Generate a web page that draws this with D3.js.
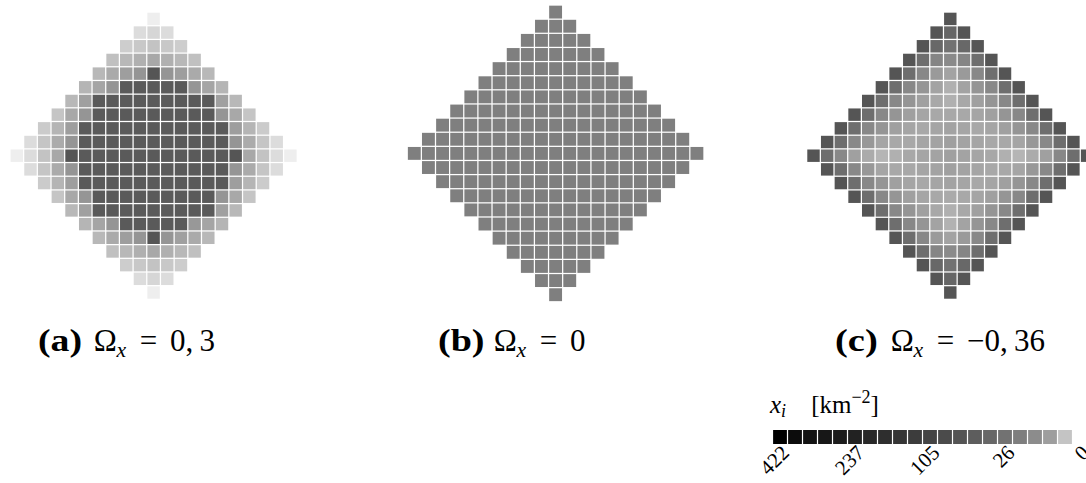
<!DOCTYPE html>
<html>
<head>
<meta charset="utf-8">
<script src="https://cdn.jsdelivr.net/npm/d3@7"></script>
<style>
  html, body { margin: 0; padding: 0; background: #fff; overflow: hidden; }
  text { font-family: "Liberation Serif", "DejaVu Serif", serif; fill: #000; }
</style>
</head>
<body>
<svg id="fig" width="1086" height="483"></svg>
<script>
// Grey shade of every cell (0 = black, 255 = white), one array per lattice row,
// top row first; row r holds 2*min(r, 20-r)+1 cells centred on the middle column.
const shadesA = [
  [238],
  [220, 214, 220],
  [205, 200, 195, 200, 205],
  [192, 184, 176, 168, 176, 184, 192],
  [184, 170, 158, 149, 85, 149, 158, 170, 184],
  [181, 165, 149, 90, 90, 90, 90, 90, 149, 165, 181],
  [184, 160, 90, 90, 90, 90, 90, 90, 90, 90, 90, 160, 184],
  [197, 168, 149, 90, 90, 90, 90, 90, 90, 90, 90, 90, 149, 168, 197],
  [203, 181, 158, 90, 90, 90, 90, 90, 90, 90, 90, 90, 90, 90, 158, 181, 203],
  [220, 197, 171, 149, 90, 90, 90, 90, 90, 90, 90, 90, 90, 90, 90, 149, 171, 197, 220],
  [238, 220, 195, 168, 85, 90, 90, 90, 90, 90, 90, 90, 90, 90, 90, 90, 85, 168, 195, 220, 238],
  [220, 197, 171, 149, 90, 90, 90, 90, 90, 90, 90, 90, 90, 90, 90, 149, 171, 197, 220],
  [203, 181, 158, 90, 90, 90, 90, 90, 90, 90, 90, 90, 90, 90, 158, 181, 203],
  [197, 168, 149, 90, 90, 90, 90, 90, 90, 90, 90, 90, 149, 168, 197],
  [184, 160, 90, 90, 90, 90, 90, 90, 90, 90, 90, 160, 184],
  [181, 165, 149, 90, 90, 90, 90, 90, 152, 165, 181],
  [184, 170, 158, 149, 85, 149, 160, 170, 184],
  [192, 184, 176, 168, 176, 184, 192],
  [205, 200, 195, 200, 205],
  [220, 214, 220],
  [238]
];

const shadesB = [
  [127],
  [127, 127, 127],
  [127, 127, 127, 127, 127],
  [127, 127, 127, 127, 127, 127, 127],
  [127, 127, 127, 127, 127, 127, 127, 127, 127],
  [127, 127, 127, 127, 127, 127, 127, 127, 127, 127, 127],
  [127, 127, 127, 127, 127, 127, 127, 127, 127, 127, 127, 127, 127],
  [127, 127, 127, 127, 127, 127, 127, 127, 127, 127, 127, 127, 127, 127, 127],
  [127, 127, 127, 127, 127, 127, 127, 127, 127, 127, 127, 127, 127, 127, 127, 127, 127],
  [127, 127, 127, 127, 127, 127, 127, 127, 127, 127, 127, 127, 127, 127, 127, 127, 127, 127, 127],
  [127, 127, 127, 127, 127, 127, 127, 127, 127, 127, 127, 127, 127, 127, 127, 127, 127, 127, 127, 127, 127],
  [127, 127, 127, 127, 127, 127, 127, 127, 127, 127, 127, 127, 127, 127, 127, 127, 127, 127, 127],
  [127, 127, 127, 127, 127, 127, 127, 127, 127, 127, 127, 127, 127, 127, 127, 127, 127],
  [127, 127, 127, 127, 127, 127, 127, 127, 127, 127, 127, 127, 127, 127, 127],
  [127, 127, 127, 127, 127, 127, 127, 127, 127, 127, 127, 127, 127],
  [127, 127, 127, 127, 127, 127, 127, 127, 127, 127, 127],
  [127, 127, 127, 127, 127, 127, 127, 127, 127],
  [127, 127, 127, 127, 127, 127, 127],
  [127, 127, 127, 127, 127],
  [127, 127, 127],
  [127]
];

const shadesC = [
  [85],
  [85, 102, 85],
  [85, 104, 114, 104, 85],
  [85, 110, 133, 138, 133, 110, 85],
  [85, 110, 136, 154, 163, 154, 136, 110, 85],
  [85, 110, 136, 149, 163, 176, 163, 149, 136, 110, 85],
  [85, 110, 136, 149, 160, 168, 176, 168, 160, 149, 136, 110, 85],
  [85, 110, 136, 149, 160, 165, 168, 168, 168, 165, 160, 149, 136, 110, 85],
  [85, 110, 136, 149, 160, 165, 168, 165, 163, 165, 168, 165, 160, 149, 136, 110, 85],
  [85, 110, 136, 152, 165, 168, 168, 165, 163, 160, 163, 165, 168, 168, 165, 152, 136, 110, 85],
  [85, 110, 136, 160, 171, 181, 176, 168, 165, 163, 160, 163, 165, 168, 176, 181, 171, 160, 136, 110, 85],
  [85, 110, 136, 152, 165, 168, 168, 165, 163, 160, 163, 165, 168, 168, 165, 152, 136, 110, 85],
  [85, 110, 136, 149, 160, 165, 168, 165, 163, 165, 168, 165, 160, 149, 136, 110, 85],
  [85, 110, 136, 149, 160, 165, 168, 170, 168, 165, 160, 149, 136, 110, 85],
  [85, 110, 136, 149, 160, 168, 176, 168, 160, 149, 136, 110, 85],
  [85, 110, 136, 149, 163, 178, 163, 149, 136, 110, 85],
  [85, 110, 136, 154, 163, 154, 136, 110, 85],
  [85, 110, 133, 138, 133, 110, 85],
  [85, 104, 114, 104, 85],
  [85, 102, 85],
  [85]
];

// Panel captions: letter and value of Omega_x
const panelLetters = ["(a)", "(b)", "(c)"];
const omegaValues = ["0,\u20093", "0", "\u22120,\u200936"];

// Colour bar: grey of each of its 20 steps and the density tick labels (km^-2)
const barShades = [0, 12, 18, 23, 28, 34, 40, 46, 53, 60, 68, 75, 84, 93, 103, 114, 126, 140, 158, 196];
const barTicks = [422, 237, 105, 26, 0];

// ---------------------------------------------------------------- lattices
const svg = d3.select("#fig");
const grey = d3.scaleLinear().domain([0, 255]).range(["#000000", "#ffffff"]);

const panels = [
  { shades: shadesA, cx: 153.6, cy: 155.7, step: 13.68 },
  { shades: shadesB, cx: 555.6, cy: 153.4, step: 14.13 },
  { shades: shadesC, cx: 950.3, cy: 155.7, step: 13.68 }
];

panels.forEach(p => {
  const n = p.shades.length;             // 21 rows / columns
  const half = (n - 1) / 2;
  const gap = 1.25 / p.step;
  const x = d3.scaleBand().domain(d3.range(-half, half + 1))
    .range([p.cx - p.step * n / 2, p.cx + p.step * n / 2])
    .paddingInner(gap).paddingOuter(gap / 2);
  const y = d3.scaleBand().domain(d3.range(n))
    .range([p.cy - p.step * n / 2, p.cy + p.step * n / 2])
    .paddingInner(gap).paddingOuter(gap / 2);

  const cells = [];
  p.shades.forEach((row, r) => {
    const h = (row.length - 1) / 2;
    row.forEach((v, k) => cells.push({ r, c: k - h, v }));
  });

  svg.append("g").attr("class", "lattice")
    .selectAll("rect").data(cells).join("rect")
    .attr("x", d => x(d.c))
    .attr("y", d => y(d.r))
    .attr("width", x.bandwidth())
    .attr("height", y.bandwidth())
    .attr("fill", d => grey(d.v));
});

// ---------------------------------------------------------------- captions
// pieces are set at math-style offsets (in em) from the caption start
const em = 31;
const captionX = [38, 438, 835];
const letterWidth = [1.42, 1.50, 1.38];   // bold extended letters, in em
panelLetters.forEach((letter, i) => {
  const s = captionX[i], base = 351;
  const g = svg.append("g").attr("class", "caption").attr("font-size", em);
  g.append("text").attr("x", s).attr("y", base)
    .attr("font-weight", "bold")
    .attr("textLength", letterWidth[i] * em)
    .attr("lengthAdjust", "spacingAndGlyphs")
    .text(letter);
  g.append("text").attr("x", s + 1.80 * em).attr("y", base).text("\u03A9");
  g.append("text").attr("x", s + 2.53 * em).attr("y", base + 6)
    .attr("font-style", "italic").attr("font-size", em * 0.7).text("x");
  g.append("text").attr("x", s + 3.28 * em).attr("y", base).text("=");
  g.append("text").attr("x", s + 4.26 * em).attr("y", base).text(omegaValues[i]);
});

// ---------------------------------------------------------------- colour bar
const barX0 = 772.5, barX1 = 1072.5, barY = 430, barH = 14;
const bx = d3.scaleBand().domain(d3.range(barShades.length))
  .range([barX0, barX1]).paddingInner(0.08).paddingOuter(0.04);
const bar = svg.append("g").attr("class", "colorbar");
bar.selectAll("rect").data(barShades).join("rect")
  .attr("x", (d, i) => bx(i))
  .attr("y", barY)
  .attr("width", bx.bandwidth())
  .attr("height", barH)
  .attr("fill", d => grey(d));

const tickScale = d3.scaleSqrt().domain([422, 0]).range([barX0, barX1]);
bar.selectAll("text.tick").data(barTicks).join("text")
  .attr("class", "tick")
  .attr("font-size", 21)
  .attr("text-anchor", "end")
  .attr("transform", d => `translate(${tickScale(d) + 18},${barY + barH + 10}) rotate(-45)`)
  .text(d => d);

const title = svg.append("text").attr("x", 770).attr("y", 413).attr("font-size", 25);
title.append("tspan").attr("font-style", "italic").text("x");
title.append("tspan").attr("font-style", "italic").attr("font-size", 18).attr("dy", 4).text("i");
title.append("tspan").attr("dy", -4).text("\u2003[km");
title.append("tspan").attr("font-size", 18).attr("dy", -10).text("\u22122");
title.append("tspan").attr("dy", 10).text("]");
</script>
</body>
</html>
